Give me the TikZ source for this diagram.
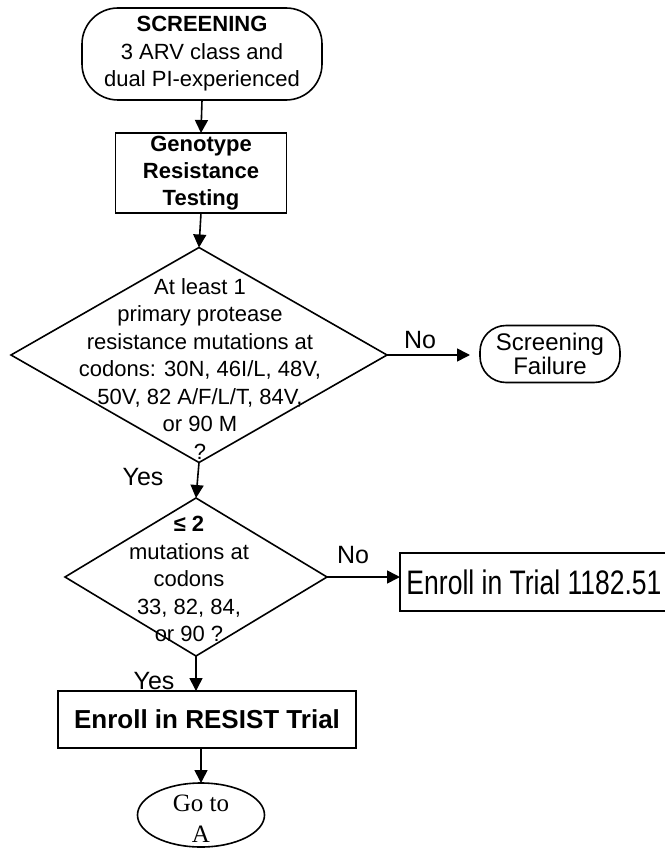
\documentclass[tikz,border=0pt]{standalone}
\usepackage{fontspec}
\setmainfont{Liberation Sans}
\newfontfamily\gotofont{Liberation Serif}
\usepackage{graphicx}
\usetikzlibrary{arrows.meta,positioning,shapes.geometric}

\begin{document}
\begin{tikzpicture}[x=1pt,y=-1pt,>={Triangle[length=13pt,width=13pt]},
    every node/.style={font=\fontsize{22}{27.5}\selectfont,align=center,inner sep=0pt,outer sep=0pt},
    flow/.style={->,line width=1.6pt},
    boxed/.style={draw,line width=1.6pt},
    decision/.style={boxed,diamond},
    lbl/.style={font=\fontsize{25}{25}\selectfont}]
    \useasboundingbox (0,0) rectangle (664,848);
    \node[boxed,rounded corners=36pt,minimum width=240pt,minimum height=92pt] (screen) at (202,54)
      {\textbf{SCREENING}\\3 ARV class and\\dual PI-experienced};
    \node[boxed,minimum width=171pt,minimum height=80pt,font=\bfseries\fontsize{22}{27}\selectfont] (geno) at (201,173)
      {Genotype\\Resistance\\Testing};
    \node[decision,minimum width=376pt,minimum height=215pt] (d1) at (199,355) {};
    \node (d1txt) at (200,369) {At least 1\\primary protease\\resistance mutations at\\codons: 30N, 46I/L, 48V,\\50V, 82 A/F/L/T, 84V,\\or 90 M\\?};
    \node[boxed,rounded corners=26pt,minimum width=140pt,minimum height=57pt,font=\fontsize{24}{22}\selectfont] (fail) at (550,354)
      {Screening\\Failure};
    \node[decision,minimum width=262pt,minimum height=158pt] (d2) at (196,577) {};
    \node (d2txt) at (189,579) {\textbf{≤ 2}\\mutations at\\codons\\33, 82, 84,\\or 90 ?};
    \node[boxed,minimum width=268pt,minimum height=58pt] (trial) at (534,582)
      {\scalebox{0.78}[1]{\fontsize{34}{34}\selectfont Enroll in Trial 1182.51}};
    \node[boxed,minimum width=298pt,minimum height=57pt,font=\bfseries\fontsize{26}{26}\selectfont] (resist) at (207,719.5)
      {Enroll in RESIST Trial};
    \node[boxed,ellipse,minimum width=127pt,minimum height=64pt] (goto) at (201,815) {};
    \node[font=\gotofont\fontsize{25}{31}\selectfont] (gototxt) at (201,819) {Go to\\A};
    \draw[flow] (screen.south) -- (geno.north);
    \draw[flow] (geno.south) -- (d1.north);
    \draw[flow] (d1.south) -- (d2.north);
    \draw[flow] (d1.east) -- (d1.east -| fail.west) [shorten >=10pt];
    \draw[flow] (d2.east) -- (d2.east -| trial.west);
    \draw[flow] (d2.south) -- (d2.south |- resist.north);
    \draw[flow] (resist.south -| goto.north) -- (goto.north);
    \node[lbl] (no1) at (420,340) {No};
    \node[lbl] (yes1) at (143,477) {Yes};
    \node[lbl] (no2) at (353,555) {No};
    \node[lbl] (yes2) at (154,681) {Yes};
\end{tikzpicture}
\end{document}
